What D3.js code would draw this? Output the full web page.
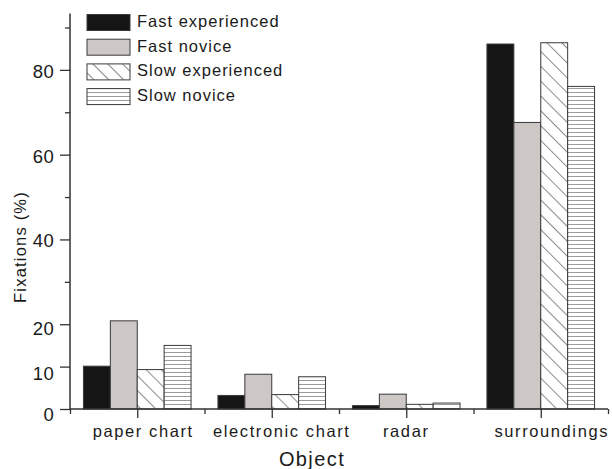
<!DOCTYPE html>
<html>
<head>
<meta charset="utf-8">
<script src="https://cdn.jsdelivr.net/npm/d3@7"></script>
<style>
  html, body { margin: 0; padding: 0; background: #ffffff; }
  svg { display: block; }
  text { font-family: "Liberation Sans", Arial, sans-serif; fill: #1a1a1a; }
</style>
</head>
<body>
<svg id="chart" width="612" height="469"></svg>
<script>
const categories = ["paper chart", "electronic chart", "radar", "surroundings"];
const seriesNames = ["Fast experienced", "Fast novice", "Slow experienced", "Slow novice"];
const fastExperienced = [10.1, 3.2, 0.8, 86.1];
const fastNovice      = [20.8, 8.2, 3.5, 67.6];
const slowExperienced = [9.3, 3.4, 1.1, 86.4];
const slowNovice      = [15.0, 7.6, 1.4, 76.1];
const yTickValues = [0, 10, 20, 30, 40, 50, 60, 70, 80, 90];
const yTickLabels = [0, 10, 20, 40, 60, 80];
const yAxisTitle = "Fixations (%)";
const xAxisTitle = "Object";

const seriesValues = [fastExperienced, fastNovice, slowExperienced, slowNovice];

const svg = d3.select("#chart");
const mLeft = 70, mRight = 608, mTop = 13.5, mBottom = 409;

const x = d3.scaleLinear().domain([0.5, categories.length + 0.5]).range([mLeft, mRight]);
const y = d3.scaleLinear().domain([0, 93.3]).range([mBottom, mTop]);

// patterns
const defs = svg.append("defs");
const diag = defs.append("pattern")
  .attr("id", "diag").attr("patternUnits", "userSpaceOnUse")
  .attr("width", 10.5).attr("height", 10.5)
  .attr("patternTransform", "rotate(45)");
diag.append("rect").attr("width", 10.5).attr("height", 10.5).attr("fill", "#fff");
diag.append("line").attr("x1", 0).attr("y1", 0.5).attr("x2", 10.5).attr("y2", 0.5)
  .attr("stroke", "#8a8a8a").attr("stroke-width", 1);

const horiz = defs.append("pattern")
  .attr("id", "horiz").attr("patternUnits", "userSpaceOnUse")
  .attr("width", 8).attr("height", 4);
horiz.append("rect").attr("width", 8).attr("height", 4).attr("fill", "#fff");
horiz.append("line").attr("x1", 0).attr("y1", 0.5).attr("x2", 8).attr("y2", 0.5)
  .attr("stroke", "#9a9a9a").attr("stroke-width", 1);

const fills = ["#151515", "#cdc7c5", "url(#diag)", "url(#horiz)"];

// bars
const groupW = 0.8;
const barW = groupW / seriesNames.length;
seriesValues.forEach((vals, si) => {
  svg.append("g").selectAll("rect").data(vals).enter().append("rect")
    .attr("x", (d, i) => x(i + 1 - groupW / 2 + si * barW))
    .attr("width", x(barW) - x(0))
    .attr("y", d => y(d))
    .attr("height", d => y(0) - y(d))
    .attr("fill", fills[si])
    .attr("stroke", "#3a3a3a")
    .attr("stroke-width", 1);
});

// y axis
const yLabelDy = {0: 6, 10: 7, 20: 4, 40: 1, 60: 1.5, 80: 2};
const yAxis = d3.axisLeft(y).tickValues(yTickValues)
  .tickFormat(d => yTickLabels.includes(d) ? d : "")
  .tickSizeOuter(0).tickPadding(5);
const gy = svg.append("g").attr("transform", `translate(${mLeft},0)`).call(yAxis);
gy.select(".domain").attr("stroke", "#333").attr("stroke-width", 1.5)
  .attr("d", `M0,${y(0)}V${mTop}`);
gy.selectAll(".tick line").attr("stroke", "#333").attr("stroke-width", 1.3)
  .attr("x2", d => yTickLabels.includes(d) ? -10 : -5);
gy.selectAll(".tick text").attr("x", -16).attr("font-size", 18.5)
  .attr("y", d => yLabelDy[d] || 0)
  .style("font-family", "'Liberation Sans', Arial, sans-serif").attr("fill", "#1a1a1a")
  .attr("letter-spacing", 0.3);

// x axis
const xTicks = d3.range(0.5, categories.length + 0.51, 0.5);
const xAxis = d3.axisBottom(x).tickValues(xTicks).tickFormat("").tickSizeOuter(0);
const gx = svg.append("g").attr("transform", `translate(0,${mBottom})`).call(xAxis);
gx.select(".domain").attr("stroke", "#333").attr("stroke-width", 1.5)
  .attr("d", `M${mLeft},0H${mRight}`);
gx.selectAll(".tick line").attr("stroke", "#333").attr("stroke-width", 1.3)
  .attr("y2", d => Number.isInteger(d) ? 9 : 5);

// category labels
const labelShift = [6, 10, 0, 11];
svg.append("g").selectAll("text").data(categories).enter().append("text")
  .attr("x", (d, i) => x(i + 1) + labelShift[i])
  .attr("y", 437)
  .attr("text-anchor", "middle")
  .attr("font-size", 16.5)
  .attr("letter-spacing", 1.6)
  .text(d => d);

// axis titles
svg.append("text").attr("x", 312).attr("y", 466).attr("text-anchor", "middle")
  .attr("font-size", 20).attr("letter-spacing", 1.4).text(xAxisTitle);
svg.append("text").attr("transform", "translate(26,247) rotate(-90)")
  .attr("text-anchor", "middle").attr("font-size", 16.5).attr("letter-spacing", 1.2)
  .text(yAxisTitle);

// legend
const lg = svg.append("g");
seriesNames.forEach((name, i) => {
  const base = 27 + i * 24.7;
  lg.append("rect").attr("x", 87).attr("y", base - 12.5).attr("width", 43).attr("height", 16)
    .attr("fill", fills[i]).attr("stroke", "#3a3a3a").attr("stroke-width", 1);
  lg.append("text").attr("x", 137).attr("y", base).attr("font-size", 16.5)
    .attr("letter-spacing", 1.0).text(name);
});
</script>
</body>
</html>
